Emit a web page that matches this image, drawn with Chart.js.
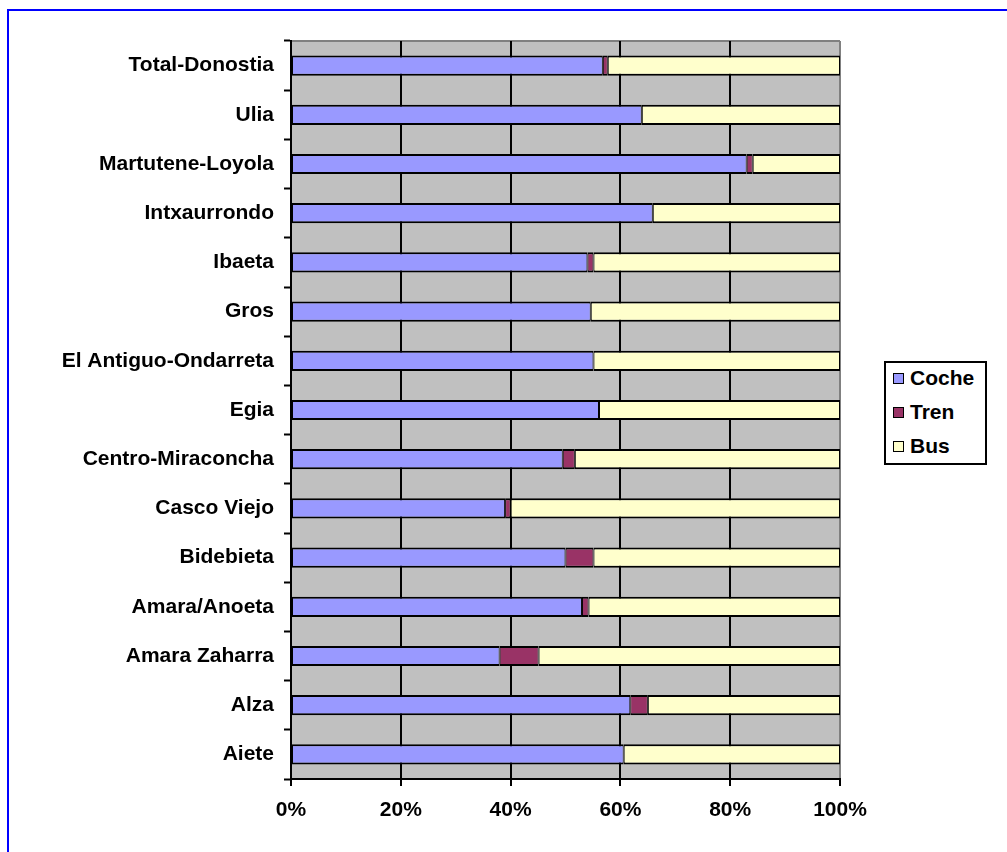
<!DOCTYPE html>
<html>
<head>
<meta charset="utf-8">
<script src="https://cdn.jsdelivr.net/npm/chart.js@4/dist/chart.umd.min.js"></script>
<style>
  body { margin: 0; background: #fff; }
  #wrap { position: relative; width: 1007px; height: 852px; overflow: hidden; }
  #frame { position: absolute; left: 7px; top: 9px; width: 1100px; height: 900px;
           border-left: 2px solid #0000ff; border-top: 2px solid #0000ff; }
  #chart { position: absolute; left: 0; top: 0; }
  #legend { position: absolute; left: 884px; top: 361px; width: 99px; height: 100px;
            border: 2px solid #000; background: #fff;
            font: bold 21px "Liberation Sans", Arial, sans-serif; color: #000; }
  .item { position: absolute; left: 7px; height: 24px; line-height: 24px; white-space: nowrap; }
  .sw { display: inline-block; width: 9px; height: 9px; border: 1px solid #000;
        margin-right: 6px; vertical-align: 1px; }
</style>
</head>
<body>
<div id="wrap">
  <div id="frame"></div>
  <canvas id="chart" width="1007" height="852"></canvas>
  <div id="legend"></div>
</div>
<script>
const categories = ['Total-Donostia', 'Ulia', 'Martutene-Loyola', 'Intxaurrondo', 'Ibaeta', 'Gros',
  'El Antiguo-Ondarreta', 'Egia', 'Centro-Miraconcha', 'Casco Viejo', 'Bidebieta',
  'Amara/Anoeta', 'Amara Zaharra', 'Alza', 'Aiete'];
const coche = [56.8, 63.9, 83.0, 65.9, 54.0, 54.6, 55.1, 56.1, 49.5, 39.0, 50.0, 53.0, 38.0, 61.8, 60.6];
const tren  = [0.9, 0, 1.1, 0, 1.1, 0, 0, 0, 2.2, 1.0, 5.1, 1.2, 7.1, 3.2, 0];
const bus   = [42.3, 36.1, 15.9, 34.1, 44.9, 45.4, 44.9, 43.9, 48.3, 60.0, 44.9, 45.8, 54.9, 35.0, 39.4];
const seriesNames = ['Coche', 'Tren', 'Bus'];
const seriesColors = ['#9999ff', '#993366', '#ffffcc'];
const tickLabels = ['0%', '20%', '40%', '60%', '80%', '100%'];

Chart.defaults.font.family = '"Liberation Sans", Arial, sans-serif';
Chart.defaults.font.size = 21;
Chart.defaults.font.weight = 'bold';
Chart.defaults.color = '#000';

// grey plot background + grey top edge, like the old spreadsheet charts
const plotBg = {
  id: 'plotBg',
  beforeDraw(chart) {
    const { ctx, chartArea: a } = chart;
    ctx.save();
    ctx.fillStyle = '#c0c0c0';
    ctx.fillRect(a.left, a.top, a.right - a.left, a.bottom - a.top);
    ctx.strokeStyle = '#808080';
    ctx.lineWidth = 2;
    ctx.beginPath();
    ctx.moveTo(a.left, a.top);
    ctx.lineTo(a.right, a.top);
    ctx.stroke();
    ctx.restore();
  }
};

const series = [coche, tren, bus];
const ctx = document.getElementById('chart').getContext('2d');
new Chart(ctx, {
  type: 'bar',
  data: {
    labels: categories,
    datasets: series.map((d, i) => ({
      label: seriesNames[i],
      data: d,
      backgroundColor: seriesColors[i],
      borderColor: '#000',
      borderWidth: { top: 2, bottom: 2, left: 1, right: 1 },
      borderSkipped: false,
      barPercentage: 0.41,
      categoryPercentage: 1
    }))
  },
  options: {
    indexAxis: 'y',
    responsive: false,
    animation: false,
    devicePixelRatio: 1,
    layout: { padding: { top: 41, right: 167, bottom: 23, left: 0 } },
    plugins: { legend: { display: false }, tooltip: { enabled: false } },
    scales: {
      x: {
        stacked: true, min: 0, max: 100,
        ticks: { stepSize: 20, padding: 12, callback: (v, i) => tickLabels[i] },
        grid: {
          color: c => c.index === 5 ? '#808080' : '#000',
          lineWidth: 2, tickLength: 7, tickColor: '#000', tickWidth: 2
        },
        border: { color: '#000', width: 2 },
        afterFit: s => { s.height = 50; }
      },
      y: {
        stacked: true,
        ticks: { padding: 10 },
        grid: { drawOnChartArea: false, tickLength: 7, tickColor: '#000', tickWidth: 2 },
        border: { color: '#000', width: 2 },
        afterFit: s => { s.width = 291; }
      }
    }
  },
  plugins: [plotBg]
});

// legend
const leg = document.getElementById('legend');
seriesNames.forEach((n, i) => {
  const el = document.createElement('div');
  el.className = 'item';
  el.style.top = (3 + i * 34) + 'px';
  el.innerHTML = '<span class="sw" style="background:' + seriesColors[i] + '"></span>' + n;
  leg.appendChild(el);
});
</script>
</body>
</html>
